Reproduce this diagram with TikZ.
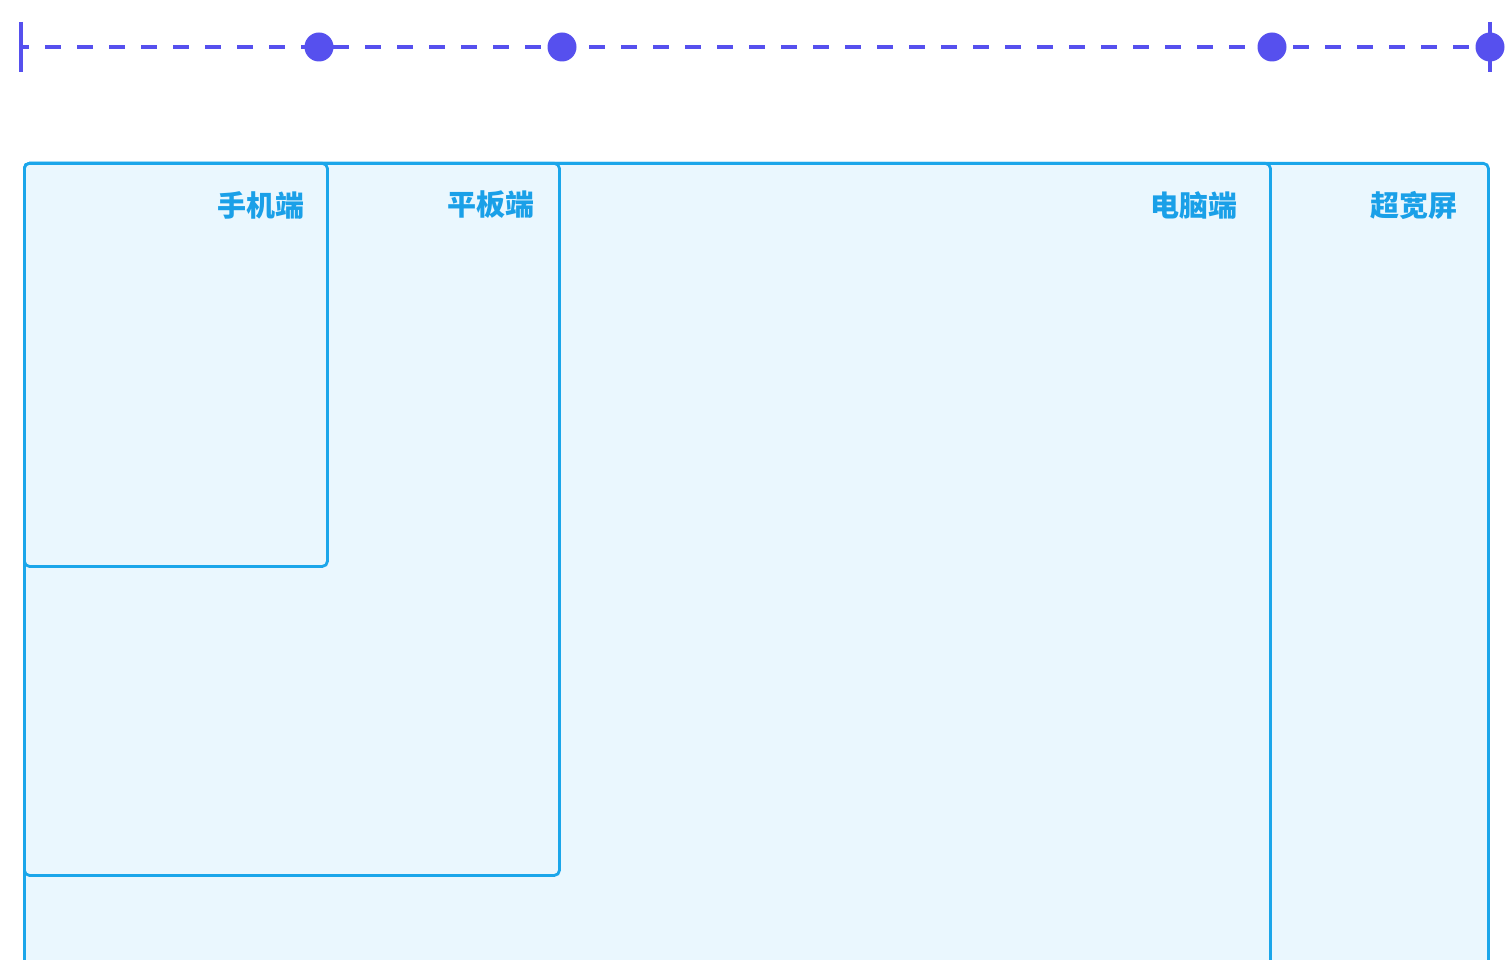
\documentclass[tikz,border=0pt]{standalone}
\usepackage{fontspec}
\newfontfamily\cjk{Noto Sans CJK SC}
\usepackage{tikz}
\usetikzlibrary{positioning,calc}
\definecolor{lineindigo}{HTML}{5650EE}
\definecolor{screenblue}{HTML}{1BA6EA}
\definecolor{screenbg}{HTML}{EAF7FE}
\definecolor{labelblue}{HTML}{1AA0E8}
\tikzset{
  screen/.style={rounded corners=5pt, draw=screenblue, line width=2.8pt,
                 fill=screenbg, anchor=north west},
  scrlbl/.style={font=\cjk\bfseries\fontsize{29}{32}\selectfont,
                 text=labelblue, anchor=east, inner sep=0pt},
  axis/.style={draw=lineindigo, line width=4pt, dash pattern=on 16pt off 16pt,
               dash phase=8pt},
  tick/.style={draw=lineindigo, line width=4pt},
  bp/.style={circle, fill=lineindigo, inner sep=0pt, minimum size=29pt},
}

\begin{document}
\begin{tikzpicture}[x=1pt, y=-1pt]
\useasboundingbox (0,0) rectangle (1506,960);
\clip (0,0) rectangle (1506,960);

% breakpoint axis
\coordinate (axL) at (21,47);
\coordinate (axR) at (1490,47);
\draw[axis] (axL) -- (axR);
\draw[tick] (21,22) -- (21,72);
\draw[tick] (1490,22) -- (1490,72);
\foreach \n/\x in {1/319, 2/562, 3/1272, 4/1490}{
  \node[bp] (bp\n) at (\x,47) {};}

% nested screens, widest first
\node[screen, minimum width=1464pt, minimum height=900pt] (wide)  at (23,162) {};
\node[screen, minimum width=1246pt, minimum height=900pt] (pc)    at (23,162) {};
\node[screen, minimum width=535pt,  minimum height=712pt] (tab)   at (23,162) {};
\node[screen, minimum width=303pt,  minimum height=403pt] (phone) at (23,162) {};

\node[scrlbl] (lphone) at ($(phone.north east)+(-24,43)$) {手机端};
\node[scrlbl] (ltab)   at ($(tab.north east)+(-26,43)$)   {平板端};
\node[scrlbl] (lpc)    at ($(pc.north east)+(-34,43)$)    {电脑端};
\node[scrlbl] (lwide)  at ($(wide.north east)+(-32,43)$)  {超宽屏};
\end{tikzpicture}
\end{document}
